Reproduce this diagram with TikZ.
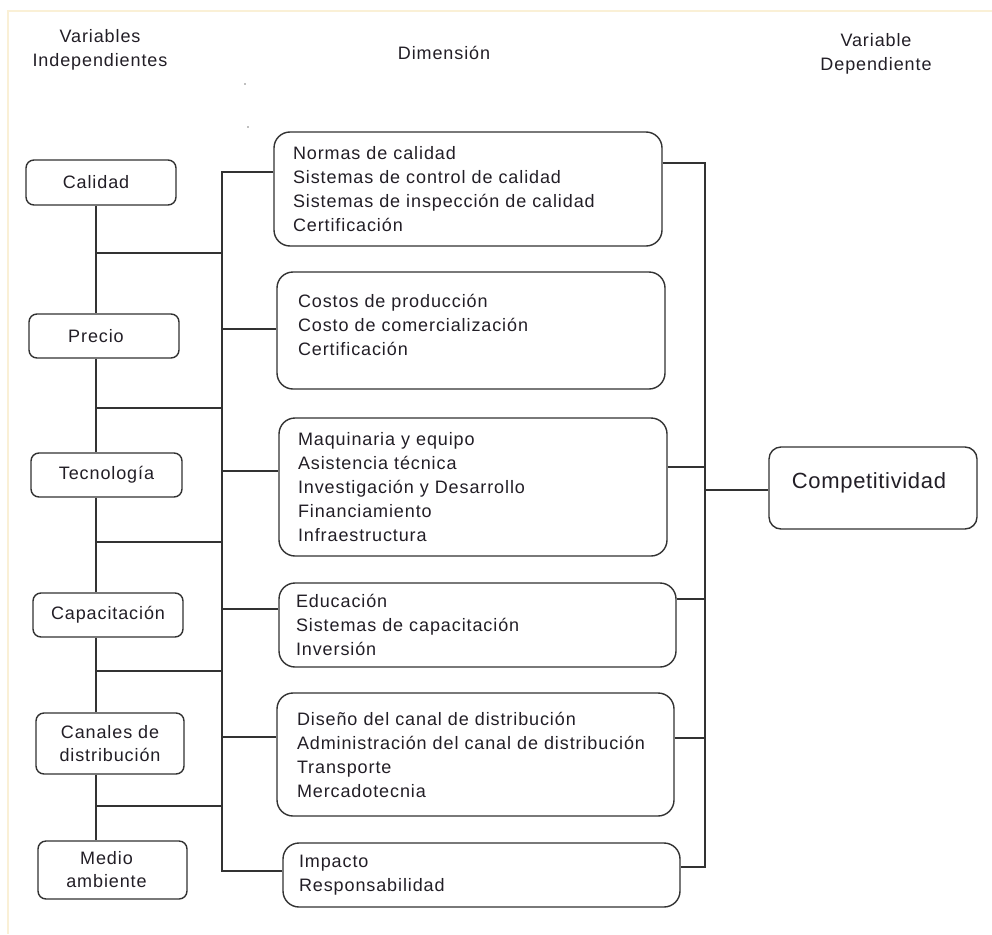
\documentclass[tikz,border=0pt]{standalone}
\usepackage{fontspec}
\setmainfont{Liberation Sans}[LetterSpace=5]
\definecolor{txt}{RGB}{34,30,38}
\definecolor{ln}{RGB}{50,50,50}
\definecolor{cream}{RGB}{250,240,214}
\begin{document}
\begin{tikzpicture}[x=1pt,y=-1pt,
  every node/.style={text=txt},
  conn/.style={draw=ln,line width=1.4pt},
  lbox/.style={draw=ln,line width=1.4pt,rounded corners=8pt,align=center,inner sep=0pt,
     font=\fontsize{18}{23}\selectfont},
  mbox/.style={draw=ln,line width=1.4pt,rounded corners=16pt,align=left,inner xsep=19pt,inner ysep=0pt,
     font=\fontsize{18}{24}\selectfont},
  hdr/.style={align=center,font=\fontsize{18}{24}\selectfont,inner sep=0pt},
  cbox/.style={draw=ln,line width=1.4pt,rounded corners=12pt,inner sep=0pt,
     font=\addfontfeature{LetterSpace=3}\fontsize{22}{26}\selectfont,text height=17pt,text depth=17pt}]
\useasboundingbox (0,0) rectangle (992,934);
\fill[white] (0,0) rectangle (992,934);
\draw[cream,line width=2pt] (8,934) -- (8,11) -- (992,11);

% headers
\node[hdr] (h1) at (100,50) {Variables\\Independientes};
\node[hdr] (h2) at (444,53) {Dimensión};
\node[hdr] (h3) at (876,54) {Variable\\Dependiente};
\fill[gray] (245,84) circle (0.9pt);
\fill[gray] (248,127) circle (0.9pt);

% left boxes
\node[lbox,minimum width=150pt,minimum height=45pt] (l1) at (101,182.5) {Calidad\hspace*{10pt}};
\node[lbox,minimum width=150pt,minimum height=44pt] (l2) at (104,336) {Precio\hspace*{16pt}};
\node[lbox,minimum width=151pt,minimum height=44pt] (l3) at (106.5,475) {Tecnología};
\node[lbox,minimum width=150pt,minimum height=44pt] (l4) at (108,615) {Capacitación};
\node[lbox,minimum width=148pt,minimum height=61pt] (l5) at (110,743.5) {Canales de\\distribución};
\node[lbox,minimum width=149pt,minimum height=58pt] (l6) at (112.5,870) {Medio\hspace*{12pt}\\ambiente\hspace*{12pt}};

% middle boxes
\node[mbox,text width=350pt,minimum height=114pt] (m1) at (468,189)
  {Normas de calidad\\Sistemas de control de calidad\\Sistemas de inspección de calidad\\Certificación};
\node[mbox,inner xsep=21pt,text width=346pt,minimum height=117pt] (m2) at (471,330.5)
  {Costos de producción\\Costo de comercialización\\Certificación\\[-12pt]\mbox{}};
\node[mbox,text width=350pt,minimum height=138pt] (m3) at (473,487)
  {Maquinaria y equipo\\Asistencia técnica\\Investigación y Desarrollo\\Financiamiento\\Infraestructura};
\node[mbox,inner xsep=17pt,text width=363pt,minimum height=84pt] (m4) at (477.5,625)
  {Educación\\Sistemas de capacitación\\Inversión};
\node[mbox,inner xsep=20pt,text width=357pt,minimum height=123pt] (m5) at (475.5,754.5)
  {Diseño del canal de distribución\\Administración del canal de distribución\\Transporte\\Mercadotecnia};
\node[mbox,inner xsep=16pt,text width=365pt,minimum height=64pt] (m6) at (481.5,875)
  {Impacto\\Responsabilidad};

% dependent
\node[cbox,minimum width=208pt,minimum height=82pt] (c) at (873,488) {Competitividad\hspace*{8pt}};

% trunk coordinates
\coordinate (lt) at (96,0);
\coordinate (mt) at (222,0);
\coordinate (rt) at (705,0);

% left chain
\draw[conn] (l1.south -| lt) -- (l2.north -| lt);
\draw[conn] (l2.south -| lt) -- (l3.north -| lt);
\draw[conn] (l3.south -| lt) -- (l4.north -| lt);
\draw[conn] (l4.south -| lt) -- (l5.north -| lt);
\draw[conn] (l5.south -| lt) -- (l6.north -| lt);

% left to middle trunk
\foreach \y in {253,408,542,671,806}{
  \draw[conn] (lt |- 0,\y) -- (mt |- 0,\y);
}
% middle trunk
\coordinate (mt1) at (222,172);
\coordinate (mt2) at (222,329);
\coordinate (mt3) at (222,471);
\coordinate (mt4) at (222,609);
\coordinate (mt5) at (222,737);
\coordinate (mt6) at (222,871);
\draw[conn] (mt1 -| m1.west) -- (mt1) -- (mt6) -- (mt6 -| m6.west);
\draw[conn] (mt2) -- (mt2 -| m2.west);
\draw[conn] (mt3) -- (mt3 -| m3.west);
\draw[conn] (mt4) -- (mt4 -| m4.west);
\draw[conn] (mt5) -- (mt5 -| m5.west);

% right trunk
\coordinate (rt1) at (705,163);
\coordinate (rt3) at (705,467);
\coordinate (rt4) at (705,599);
\coordinate (rt5) at (705,738);
\coordinate (rt6) at (705,867);
\coordinate (rtc) at (705,490);
\draw[conn] (rt1 -| m1.east) -- (rt1) -- (rt6) -- (rt6 -| m6.east);
\draw[conn] (rt3 -| m3.east) -- (rt3);
\draw[conn] (rt4 -| m4.east) -- (rt4);
\draw[conn] (rt5 -| m5.east) -- (rt5);
\draw[conn] (rtc) -- (rtc -| c.west);
\end{tikzpicture}
\end{document}
